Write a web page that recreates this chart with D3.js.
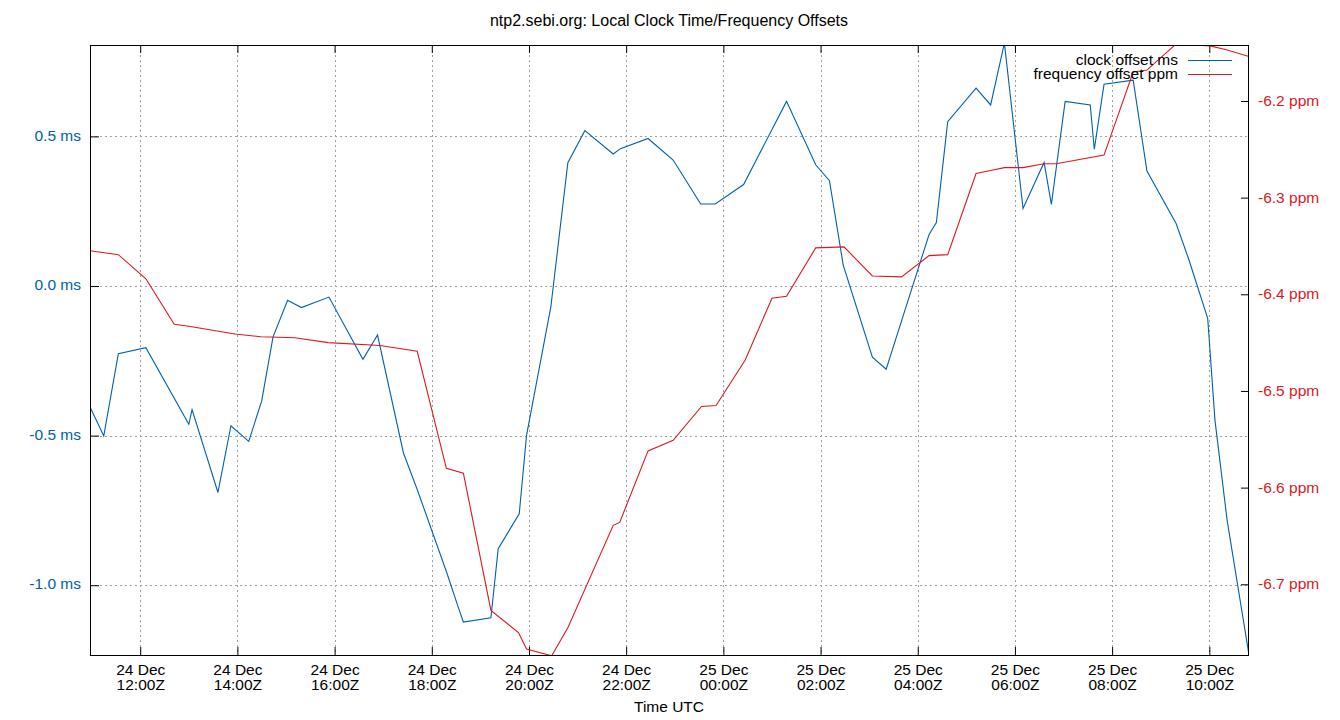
<!DOCTYPE html>
<html><head><meta charset="utf-8">
<script src="https://cdn.jsdelivr.net/npm/d3@7"></script>
<style>
body{margin:0;background:#fff;}
text{font-family:"Liberation Sans",Arial,sans-serif;}
</style></head>
<body><svg id="c" width="1340" height="720"></svg>
<script>
const title = "ntp2.sebi.org: Local Clock Time/Frequency Offsets";
const xLabel = "Time UTC";
const seriesNames = ["clock offset ms", "frequency offset ppm"];
const xDomain = ["2023-12-24 10:58", "2023-12-25 10:49"];

const clockTimes = ["2023-12-24 10:58","2023-12-24 11:15","2023-12-24 11:33","2023-12-24 12:07","2023-12-24 13:00","2023-12-24 13:04","2023-12-24 13:36","2023-12-24 13:52","2023-12-24 14:14","2023-12-24 14:30","2023-12-24 14:44","2023-12-24 15:02","2023-12-24 15:19","2023-12-24 15:53","2023-12-24 16:35","2023-12-24 16:53","2023-12-24 17:25","2023-12-24 17:42","2023-12-24 18:18","2023-12-24 18:32","2023-12-24 18:39","2023-12-24 19:13","2023-12-24 19:22","2023-12-24 19:48","2023-12-24 19:57","2023-12-24 20:27","2023-12-24 20:48","2023-12-24 21:09","2023-12-24 21:44","2023-12-24 21:53","2023-12-24 22:27","2023-12-24 22:58","2023-12-24 23:32","2023-12-24 23:50","2023-12-25 00:25","2023-12-25 01:18","2023-12-25 01:54","2023-12-25 02:11","2023-12-25 02:28","2023-12-25 03:04","2023-12-25 03:21","2023-12-25 03:41","2023-12-25 04:14","2023-12-25 04:23","2023-12-25 04:37","2023-12-25 05:12","2023-12-25 05:30","2023-12-25 05:47","2023-12-25 06:10","2023-12-25 06:36","2023-12-25 06:45","2023-12-25 07:02","2023-12-25 07:33","2023-12-25 07:38","2023-12-25 07:50","2023-12-25 08:26","2023-12-25 08:43","2023-12-25 09:19","2023-12-25 09:35","2023-12-25 09:58","2023-12-25 10:07","2023-12-25 10:22","2023-12-25 10:49"];
const clockMs = [-0.404,-0.501,-0.226,-0.206,-0.462,-0.413,-0.690,-0.467,-0.519,-0.384,-0.170,-0.048,-0.072,-0.037,-0.245,-0.164,-0.558,-0.680,-0.954,-1.068,-1.123,-1.109,-0.878,-0.761,-0.499,-0.070,0.412,0.519,0.441,0.459,0.493,0.421,0.274,0.274,0.339,0.617,0.405,0.352,0.070,-0.238,-0.278,-0.108,0.172,0.212,0.549,0.661,0.605,0.812,0.259,0.413,0.273,0.617,0.605,0.457,0.674,0.688,0.384,0.209,0.086,-0.108,-0.449,-0.783,-1.233];

const freqTimes = ["2023-12-24 10:58","2023-12-24 11:33","2023-12-24 12:07","2023-12-24 12:42","2023-12-24 13:00","2023-12-24 13:57","2023-12-24 14:29","2023-12-24 15:11","2023-12-24 15:52","2023-12-24 16:56","2023-12-24 17:42","2023-12-24 18:18","2023-12-24 18:39","2023-12-24 19:13","2023-12-24 19:47","2023-12-24 19:57","2023-12-24 20:28","2023-12-24 20:48","2023-12-24 21:44","2023-12-24 21:52","2023-12-24 22:27","2023-12-24 22:58","2023-12-24 23:33","2023-12-24 23:51","2023-12-25 00:27","2023-12-25 01:00","2023-12-25 01:18","2023-12-25 01:54","2023-12-25 02:29","2023-12-25 03:04","2023-12-25 03:40","2023-12-25 04:14","2023-12-25 04:37","2023-12-25 05:12","2023-12-25 05:30","2023-12-25 05:47","2023-12-25 06:10","2023-12-25 06:36","2023-12-25 06:51","2023-12-25 07:50","2023-12-25 08:26","2023-12-25 08:43","2023-12-25 09:19","2023-12-25 10:01","2023-12-25 10:21","2023-12-25 10:49"];
const freqPpm = [-6.355,-6.359,-6.384,-6.431,-6.433,-6.441,-6.444,-6.445,-6.450,-6.453,-6.459,-6.580,-6.585,-6.727,-6.750,-6.767,-6.774,-6.745,-6.639,-6.636,-6.562,-6.551,-6.516,-6.515,-6.468,-6.404,-6.402,-6.352,-6.351,-6.381,-6.382,-6.360,-6.359,-6.275,-6.272,-6.269,-6.269,-6.265,-6.265,-6.256,-6.170,-6.168,-6.141,-6.143,-6.147,-6.154];

const msTicks = [-1.0, -0.5, 0.0, 0.5];
const ppmTicks = [-6.7, -6.6, -6.5, -6.4, -6.3, -6.2];
const msDomain = [-1.2365, 0.8054];
const ppmDomain = [-6.7742, -6.1421];

const parse = d3.utcParse("%Y-%m-%d %H:%M");
const blue = "#0060ad", red = "#dd181f";
const L = 90, R = 1249, T = 45, B = 656;
const svg = d3.select("#c");

const x = d3.scaleUtc().domain(xDomain.map(parse)).range([L, R]);
const y1 = d3.scaleLinear().domain(msDomain).range([B, T]);
const y2 = d3.scaleLinear().domain(ppmDomain).range([B, T]);
const xTicks = d3.utcHour.every(2).range(parse("2023-12-24 12:00"), parse("2023-12-25 10:30"));

// grid
const grid = svg.append("g").attr("stroke", "#a0a0a0").attr("stroke-width", 1).attr("stroke-dasharray", "2,3").attr("shape-rendering", "crispEdges");
grid.selectAll(".gx").data(xTicks).join("line").attr("x1", d => Math.round(x(d)) + 0.5).attr("x2", d => Math.round(x(d)) + 0.5).attr("y1", T).attr("y2", B);
grid.selectAll(".gy").data(msTicks).join("line").attr("y1", d => Math.round(y1(d)) + 0.5).attr("y2", d => Math.round(y1(d)) + 0.5).attr("x1", L).attr("x2", R);

// axes
const fmtHy = s => s.replace("\u2212", "-");
const fontSize = "15.5px";
const gB = svg.append("g").attr("transform", `translate(0,${B})`)
  .call(d3.axisBottom(x).tickValues(xTicks).tickSizeInner(-9).tickSizeOuter(0).tickPadding(4).tickFormat(""));
gB.selectAll(".tick text").each(function(d) {
  const t = d3.select(this).attr("dy", null).attr("y", 19).attr("fill", "#000").style("font-size", fontSize);
  t.append("tspan").attr("x", 0).text(d3.utcFormat("%d %b")(d));
  t.append("tspan").attr("x", 0).attr("dy", 15).text(d3.utcFormat("%H:%MZ")(d));
});
const gT = svg.append("g").attr("transform", `translate(0,${T})`)
  .call(d3.axisTop(x).tickValues(xTicks).tickSizeInner(-8).tickSizeOuter(0).tickFormat(""));
const gL = svg.append("g").attr("transform", `translate(${L},0)`)
  .call(d3.axisLeft(y1).tickValues(msTicks).tickSizeInner(-9).tickSizeOuter(0).tickPadding(9).tickFormat(d => fmtHy(d3.format(".1f")(d)) + " ms"));
gL.selectAll(".tick text").attr("fill", blue).attr("dy", "0.24em").style("font-size", fontSize);
const gR = svg.append("g").attr("transform", `translate(${R},0)`)
  .call(d3.axisRight(y2).tickValues(ppmTicks).tickSizeInner(-8).tickSizeOuter(0).tickPadding(9).tickFormat(d => fmtHy(d3.format(".1f")(d)) + " ppm"));
gR.selectAll(".tick text").attr("fill", red).attr("dy", "0.3em").style("font-size", fontSize);
[gB, gT, gL, gR].forEach(g => { g.select(".domain").remove(); g.selectAll(".tick line").attr("stroke", "#000"); g.attr("font-family", null).attr("font-size", null); });

// clip
svg.append("clipPath").attr("id", "clip").append("rect").attr("x", L).attr("y", T).attr("width", R - L).attr("height", B - T);

const clockData = clockTimes.map((t, i) => [parse(t), clockMs[i]]);
const freqData = freqTimes.map((t, i) => [parse(t), freqPpm[i]]);
const plot = svg.append("g").attr("clip-path", "url(#clip)");
plot.append("path").datum(clockData).attr("fill", "none").attr("stroke", blue).attr("stroke-width", 1.1)
  .attr("d", d3.line().x(d => x(d[0])).y(d => y1(d[1])));
plot.append("path").datum(freqData).attr("fill", "none").attr("stroke", red).attr("stroke-width", 1.1)
  .attr("d", d3.line().x(d => x(d[0])).y(d => y2(d[1])));

// border
svg.append("rect").attr("x", L + 0.5).attr("y", T + 0.5).attr("width", R - L - 1).attr("height", B - T - 1)
  .attr("fill", "none").attr("stroke", "#000").attr("stroke-width", 1).attr("shape-rendering", "crispEdges");

// legend
const leg = svg.append("g");
[[seriesNames[0], blue, 60.5], [seriesNames[1], red, 74.5]].forEach(([name, col, yy]) => {
  leg.append("text").attr("x", 1178).attr("y", yy + 4.5).attr("text-anchor", "end").style("font-size", fontSize).attr("fill", "#000").text(name);
  leg.append("line").attr("x1", 1188).attr("x2", 1232).attr("y1", yy).attr("y2", yy).attr("stroke", col).attr("stroke-width", 1.1);
});

// title and x label
svg.append("text").attr("x", 669).attr("y", 26).attr("text-anchor", "middle").style("font-size", "16px").attr("fill", "#000").text(title);
svg.append("text").attr("x", 669).attr("y", 712).attr("text-anchor", "middle").style("font-size", fontSize).attr("fill", "#000").text(xLabel);
</script></body></html>
